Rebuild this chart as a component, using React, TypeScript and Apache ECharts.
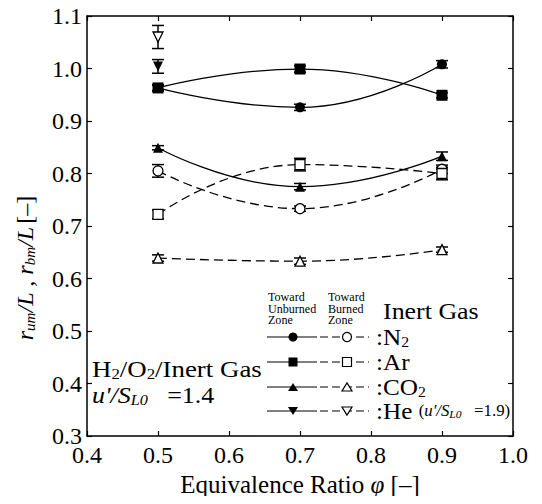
import React, { useEffect, useRef } from "react";
import * as echarts from "echarts";

const phi = [0.5, 0.7, 0.9];
const phiHe = [0.5];

// Toward unburned zone (filled symbols, solid lines)
const n2Unburned = [0.963, 0.926, 1.008];
const arUnburned = [0.963, 0.999, 0.949];
const co2Unburned = [0.849, 0.775, 0.833];
const heUnburned = [1.004];
// Toward burned zone (open symbols, dashed lines)
const n2Burned = [0.805, 0.733, 0.808];
const arBurned = [0.722, 0.817, 0.800];
const co2Burned = [0.639, 0.633, 0.655];
const heBurned = [1.06];

// error half-widths
const n2UnburnedErr = [0.005, 0.006, 0.007];
const arUnburnedErr = [0.006, 0.006, 0.005];
const co2UnburnedErr = [0.004, 0.006, 0.008];
const heUnburnedErr = [0.013];
const n2BurnedErr = [0.012, 0.005, 0.008];
const arBurnedErr = [0.008, 0.012, 0.012];
const co2BurnedErr = [0.006, 0.006, 0.005];
const heBurnedErr = [0.022];

const xTicks = [0.4, 0.5, 0.6, 0.7, 0.8, 0.9, 1.0];
const yTicks = [0.3, 0.4, 0.5, 0.6, 0.7, 0.8, 0.9, 1.0, 1.1];

const FONT = "Liberation Serif, serif";
const FS = 24;
const INV_TRI = "path://M0,0 L10,0 L5,9 Z";

function pts(xs: number[], ys: number[]) {
  return xs.map((x, i) => [x, ys[i]]);
}
function errPts(xs: number[], ys: number[], es: number[]) {
  return xs.map((x, i) => [x, ys[i], es[i]]);
}

export default function App() {
  const ref = useRef<HTMLDivElement>(null);
  useEffect(() => {
    if (!ref.current) return;
    const chart = echarts.init(ref.current, undefined, { renderer: "svg" });

    const lineSeries = (
      data: number[][],
      symbol: string,
      size: number,
      filled: boolean
    ) => ({
      type: "line",
      data,
      smooth: true,
      symbol,
      symbolSize: size,
      showAllSymbol: true,
      z: 3,
      lineStyle: {
        color: "#000",
        width: 1.3,
        type: filled ? "solid" : [9, 5],
      },
      itemStyle: {
        color: filled ? "#000" : "#fff",
        borderColor: "#000",
        borderWidth: filled ? 0 : 1.3,
        opacity: 1,
      },
      emphasis: { disabled: true },
    });

    const errSeries = (data: number[][]) => ({
      type: "custom",
      data,
      z: 2,
      renderItem: (params: any, api: any) => {
        const x = api.value(0);
        const y = api.value(1);
        const e = api.value(2);
        const top = api.coord([x, y + e]);
        const bot = api.coord([x, y - e]);
        const w = 6;
        const st = { stroke: "#000", lineWidth: 1.5 };
        return {
          type: "group",
          children: [
            { type: "line", shape: { x1: top[0], y1: top[1], x2: bot[0], y2: bot[1] }, style: st },
            { type: "line", shape: { x1: top[0] - w, y1: top[1], x2: top[0] + w, y2: top[1] }, style: st },
            { type: "line", shape: { x1: bot[0] - w, y1: bot[1], x2: bot[0] + w, y2: bot[1] }, style: st },
          ],
        };
      },
    });

    const rich = {
      n: { fontSize: FS, fontFamily: FONT, color: "#000" },
      nn: { fontSize: 25, fontFamily: FONT, color: "#000" },
      ni: { fontSize: 25, fontFamily: FONT, fontStyle: "italic", color: "#000" },
      sub: { fontSize: 15, fontFamily: FONT, color: "#000", padding: [10, 0, 0, 0] },
      i: { fontSize: FS, fontFamily: FONT, fontStyle: "italic", color: "#000" },
      isub: { fontSize: 15, fontFamily: FONT, fontStyle: "italic", color: "#000", padding: [10, 0, 0, 0] },
      s: { fontSize: 16, fontFamily: FONT, color: "#000" },
      si: { fontSize: 16, fontFamily: FONT, fontStyle: "italic", color: "#000" },
      ssub: { fontSize: 11, fontFamily: FONT, fontStyle: "italic", color: "#000", padding: [6, 0, 0, 0] },
      t: { fontSize: 11.5, fontFamily: FONT, color: "#000", lineHeight: 11.5 },
      big: { fontSize: FS, fontFamily: FONT, color: "#000" },
    };

    // legend glyphs
    const legendRows = [
      { y: 337, label: "{n|:N}{sub|2}", shape: "circle" },
      { y: 362, label: "{n|:Ar}", shape: "rect" },
      { y: 387, label: "{n|:CO}{sub|2}", shape: "tri" },
      { y: 411, label: "{n|:He }{s|(}{si|u'/S}{ssub|L0}{s|   =1.9)}", shape: "itri" },
    ];
    const glyph = (shape: string, cx: number, cy: number, filled: boolean) => {
      const style = { fill: filled ? "#000" : "#fff", stroke: "#000", lineWidth: filled ? 0 : 1.2 };
      if (shape === "circle") return { type: "circle", shape: { cx, cy, r: 4.5 }, style, z: 10 };
      if (shape === "rect") return { type: "rect", shape: { x: cx - 4.5, y: cy - 4.5, width: 9, height: 9 }, style, z: 10 };
      if (shape === "tri")
        return { type: "polygon", shape: { points: [[cx - 5, cy + 4], [cx + 5, cy + 4], [cx, cy - 4]] }, style, z: 10 };
      return { type: "polygon", shape: { points: [[cx - 5, cy - 4], [cx + 5, cy - 4], [cx, cy + 4]] }, style, z: 10 };
    };
    const legendEls: any[] = [];
    legendRows.forEach((r) => {
      legendEls.push({ type: "line", shape: { x1: 267, y1: r.y, x2: 317, y2: r.y }, style: { stroke: "#000", lineWidth: 1.2 }, z: 9 });
      legendEls.push({ type: "line", shape: { x1: 320, y1: r.y, x2: 369, y2: r.y }, style: { stroke: "#000", lineWidth: 1.2, lineDash: [8, 4] }, z: 9 });
      legendEls.push(glyph(r.shape, 293, r.y, true));
      legendEls.push(glyph(r.shape, 347, r.y, false));
      legendEls.push({
        type: "text",
        x: 376,
        y: r.y,
        scaleX: 1.05,
        style: { text: r.label, rich, verticalAlign: "middle", align: "left" },
        z: 10,
      });
    });

    const richText = (x: number, y: number, t: string, sx = 1) => ({
      type: "text",
      x,
      y,
      scaleX: sx,
      style: { text: t, rich, verticalAlign: "middle", align: "left" },
      z: 10,
    });

    const option: any = {
      animation: false,
      textStyle: { fontFamily: FONT, color: "#000" },
      grid: { left: 87, right: 29, top: 16, bottom: 68 },
      xAxis: [
        {
          type: "value",
          min: 0.4,
          max: 1.0,
          interval: 0.1,
          position: "bottom",
          axisLine: { lineStyle: { color: "#000", width: 1.5 } },
          axisTick: { inside: true, length: 5, lineStyle: { color: "#000", width: 1.2 } },
          axisLabel: {
            margin: 7,
            fontSize: FS,
            fontFamily: FONT,
            color: "#000",
            formatter: (v: number) => v.toFixed(1),
            customValues: xTicks,
          },
          splitLine: { show: false },
          name: "{nn|Equivalence Ratio }{ni|φ}{nn| [–]}",
          nameLocation: "middle",
          nameGap: 27,
          nameTextStyle: {
            fontSize: 25,
            fontFamily: FONT,
            color: "#000",
            rich,
          },
        },
        {
          type: "value",
          min: 0.4,
          max: 1.0,
          interval: 0.1,
          position: "top",
          axisLine: { lineStyle: { color: "#000", width: 1.5 } },
          axisTick: { inside: true, length: 5, lineStyle: { color: "#000", width: 1.2 } },
          axisLabel: { show: false },
          splitLine: { show: false },
        },
      ],
      yAxis: [
        {
          type: "value",
          min: 0.3,
          max: 1.1,
          interval: 0.1,
          position: "left",
          axisLine: { show: true, lineStyle: { color: "#000", width: 1.5 } },
          axisTick: { show: true, inside: true, length: 5, lineStyle: { color: "#000", width: 1.2 } },
          axisLabel: {
            margin: 5,
            fontSize: FS,
            fontFamily: FONT,
            color: "#000",
            formatter: (v: number) => v.toFixed(1),
            customValues: yTicks,
          },
          splitLine: { show: false },
        },
        {
          type: "value",
          min: 0.3,
          max: 1.1,
          interval: 0.1,
          position: "right",
          axisLine: { show: true, lineStyle: { color: "#000", width: 1.5 } },
          axisTick: { show: true, inside: true, length: 5, lineStyle: { color: "#000", width: 1.2 } },
          axisLabel: { show: false },
          splitLine: { show: false },
        },
      ],
      series: [
        errSeries(errPts(phi, n2Unburned, n2UnburnedErr)),
        errSeries(errPts(phi, arUnburned, arUnburnedErr)),
        errSeries(errPts(phi, co2Unburned, co2UnburnedErr)),
        errSeries(errPts(phiHe, heUnburned, heUnburnedErr)),
        errSeries(errPts(phi, n2Burned, n2BurnedErr)),
        errSeries(errPts(phi, arBurned, arBurnedErr)),
        errSeries(errPts(phi, co2Burned, co2BurnedErr)),
        errSeries(errPts(phiHe, heBurned, heBurnedErr)),
        lineSeries(pts(phi, n2Unburned), "circle", 10, true),
        lineSeries(pts(phi, arUnburned), "rect", 11, true),
        lineSeries(pts(phi, co2Unburned), "triangle", 10, true),
        lineSeries(pts(phiHe, heUnburned), INV_TRI, 10, true),
        lineSeries(pts(phi, n2Burned), "circle", 10, false),
        lineSeries(pts(phi, arBurned), "rect", 10, false),
        lineSeries(pts(phi, co2Burned), "triangle", 10, false),
        lineSeries(pts(phiHe, heBurned), INV_TRI, 10, false),
      ],
      graphic: [
        {
          type: "text",
          x: 25,
          y: 268,
          rotation: Math.PI / 2,
          style: {
            text: "{i|r}{isub|um}{i|/L , r}{isub|bm}{i|/L} {n|[–]}",
            rich,
            align: "center",
            verticalAlign: "middle",
          },
        },
        richText(92, 369, "{n|H}{sub|2}{n|/O}{sub|2}{n|/Inert Gas}", 1.12),
        richText(92, 395, "{i|u'/S}{isub|L0}{n|   =1.4}", 1.08),
        richText(268, 309, "{t|Toward}\n{t|Unburned}\n{t|Zone}", 1.05),
        richText(328, 309, "{t|Toward}\n{t|Burned}\n{t|Zone}", 1.05),
        richText(383, 311, "{big|Inert Gas}", 1.08),
        ...legendEls,
      ],
    };
    chart.setOption(option);
    return () => chart.dispose();
  }, []);
  return <div ref={ref} style={{ width: 542, height: 504, margin: -8 }} />;
}
